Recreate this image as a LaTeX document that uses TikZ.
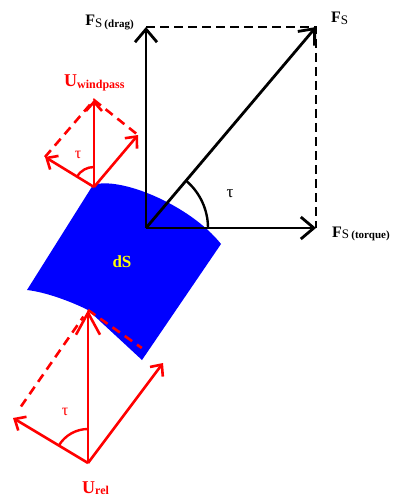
\documentclass[tikz,border=0pt]{standalone}
\usepackage{fontspec}
\setmainfont{Liberation Serif}
\usepackage{tikz}
\usetikzlibrary{arrows.meta}
\definecolor{vecRed}{HTML}{FF0000}
\definecolor{surfBlue}{HTML}{0000FF}
\definecolor{surfYellow}{HTML}{FFFF00}
\newcommand{\fsub}[1]{{\fontsize{16}{16}\selectfont F}\raisebox{-1.5pt}{\fontsize{13}{13}\selectfont\mdseries S\,{\fontsize{11}{11}\selectfont\bfseries #1}}}
\newcommand{\usub}[1]{{\fontsize{18}{18}\selectfont U}\raisebox{-1.5pt}{\fontsize{12}{12}\selectfont #1}}

\begin{document}
\begin{tikzpicture}[x=1pt, y=-1pt, font=\bfseries,
  force/.style={draw=black, line width=2.8pt, -{Straight Barb[length=13pt, width=22pt]}},
  proj/.style={draw=black, line width=2.8pt, dash pattern=on 9pt off 5pt},
  wind/.style={draw=vecRed, line width=2.6pt, -{Straight Barb[length=9pt, width=16pt]}},
  windproj/.style={draw=vecRed, line width=2.6pt, dash pattern=on 9pt off 6pt},
  angarc/.style={line width=2.4pt},
  lbl/.style={inner sep=0pt},
  redlbl/.style={inner sep=0pt, text=vecRed}]
\useasboundingbox (0,0) rectangle (410,500);
% surface element
\fill[surfBlue] (93,185) .. controls (120,176) and (190,205) .. (221,244)
  -- (142,360) -- (88,310) .. controls (70,301) and (45,292) .. (27,290) -- cycle;
\node[lbl, text=surfYellow, font=\fontsize{17}{17}\selectfont\bfseries] (ds) at (122,262) {dS};
% force decomposition
\coordinate (o) at (146,228);
\coordinate (drag) at (146,27);
\coordinate (torque) at (316,228);
\coordinate (fs) at (316,27);
\draw[proj] (drag) -- (fs) -- (torque);
\draw[force] (o) -- (drag);
\draw[force] (o) -- (torque);
\draw[force] (o) -- (fs);
\draw[angarc] ([xshift=62pt]o) arc (0:-49.8:62);
\node[lbl, font=\fontsize{17}{17}\selectfont] (tauF) at (230,194) {τ};
\node[lbl, anchor=base east] (fsdrag) at (134,26) {\fsub{(drag)}};
\node[lbl, anchor=base west] (fsres) at (331,23) {\fsub{}};
\node[lbl, anchor=base west] (fstorque) at (332,237) {\fsub{(torque)}};
% wind passing the element
\coordinate (w0) at (94,187);
\coordinate (wtop) at (94,100);
\coordinate (wleft) at (45,157);
\coordinate (wright) at (138,135);
\draw[windproj] (wleft) -- (wtop) -- (wright);
\draw[wind] (w0) -- (wtop);
\draw[wind] (w0) -- (wleft);
\draw[wind] (w0) -- (wright);
\draw[angarc, vecRed] ([shift={(211.5:20)}]w0) arc (211.5:270:20);
\node[redlbl, font=\fontsize{16}{16}\selectfont] (tauW) at (78,155) {τ};
\node[redlbl, anchor=base west] (uwind) at (64,87) {\usub{windpass}};
% relative wind
\coordinate (r0) at (88,463);
\coordinate (rtop) at (88,310);
\coordinate (rleft) at (13,418);
\coordinate (rright) at (163,363);
\draw[windproj, shorten <=14pt, shorten >=8pt] (rleft) -- (rtop);
\draw[windproj, shorten >=26pt] (rtop) -- (rright);
\draw[wind, -{Straight Barb[length=22pt, width=24pt]}] (r0) -- (rtop);
\draw[wind] (r0) -- (rleft);
\draw[wind] (r0) -- (rright);
\draw[angarc, vecRed] ([shift={(211:34)}]r0) arc (211:270:34);
\node[redlbl, font=\fontsize{16}{16}\selectfont] (tauR) at (65,412) {τ};
\node[redlbl, anchor=base west] (urel) at (82,493) {\usub{rel}};
\end{tikzpicture}
\end{document}
